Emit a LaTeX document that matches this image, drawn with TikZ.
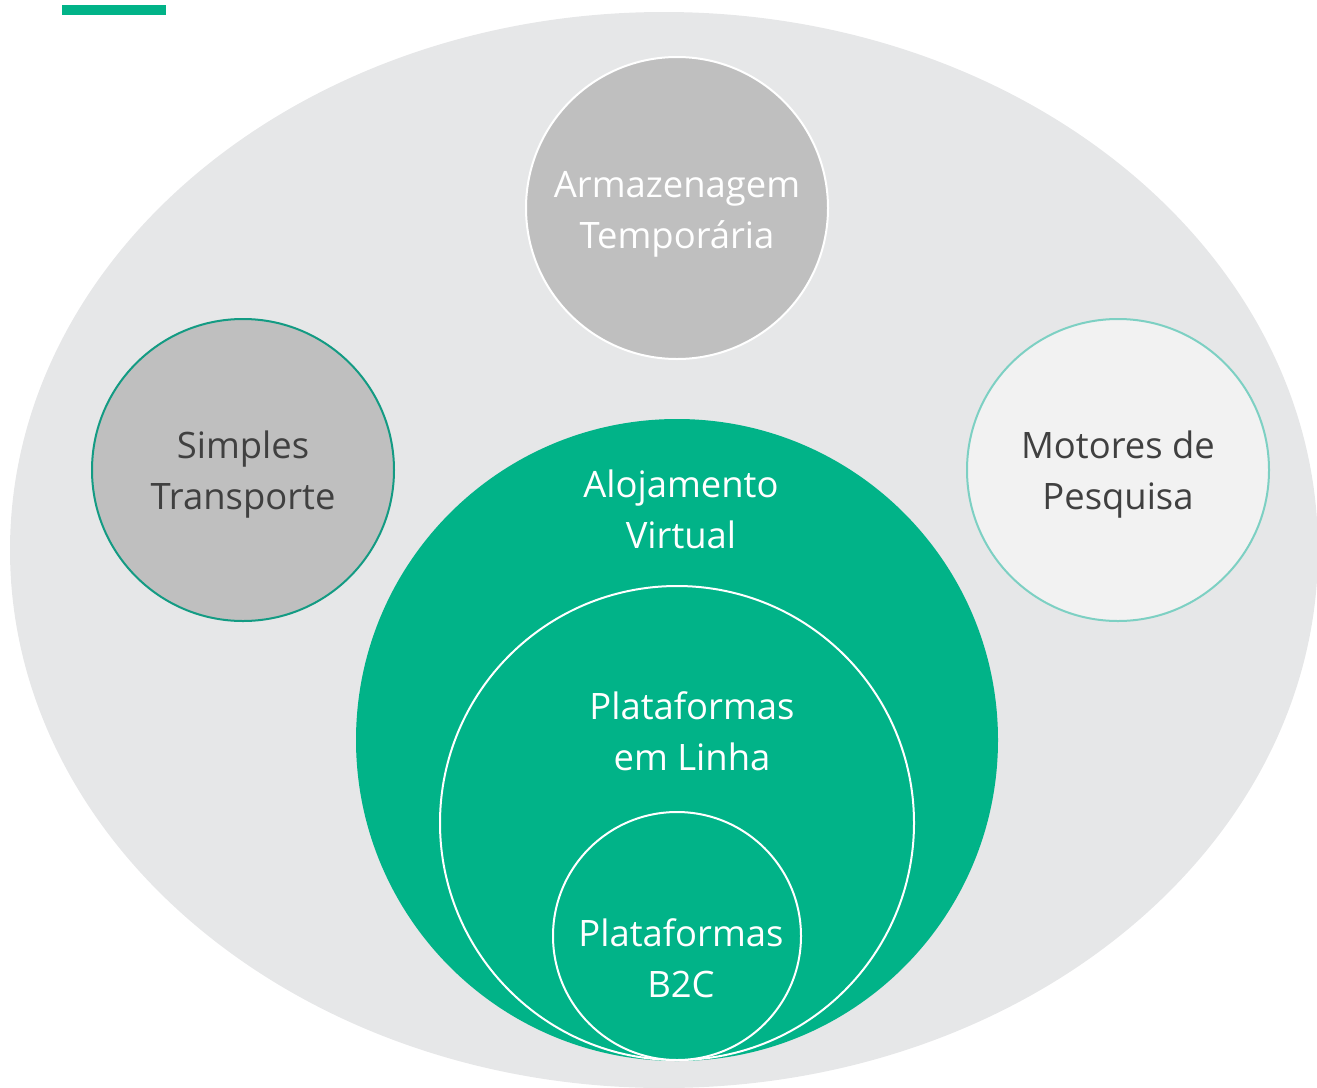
\documentclass[tikz,border=0pt]{standalone}
\usepackage{fontspec}
\setmainfont{Open Sans}
\definecolor{hpegreen}{HTML}{01B388}
\definecolor{bgoval}{HTML}{E6E7E8}
\definecolor{midgray}{HTML}{BFBFBF}
\definecolor{lightgray}{HTML}{F2F2F2}
\definecolor{darkteal}{HTML}{139B83}
\definecolor{paleteal}{HTML}{7DD0C3}
\definecolor{txtgray}{HTML}{404040}
\begin{document}
\begin{tikzpicture}[x=0.5pt,y=-0.5pt,inner sep=0pt,outer sep=0pt,
bubble/.style={draw,circle,line width=1pt},
label/.style={align=center,font=\fontsize{18.2}{25.5}\selectfont}]
\useasboundingbox (0,0) rectangle (1317,1087);
\clip (0,0) rectangle (1317,1087);
\fill[bgoval] (664,550) ellipse [x radius=654, y radius=538];
\fill[hpegreen] (62,5) rectangle (166,15);
% outer ring of themes
\draw (677,208) node[bubble,fill=midgray,draw=white,minimum size=151pt] (arm) {};
\draw (243,470) node[bubble,fill=midgray,draw=darkteal,minimum size=151pt] (sim) {};
\draw (1118,470) node[bubble,fill=lightgray,draw=paleteal,minimum size=151pt] (mot) {};
% nested green circles
\draw (677,740) node[bubble,fill=hpegreen,draw=hpegreen,minimum size=320pt] (alo) {};
\draw (677,823) node[bubble,fill=hpegreen,draw=white,minimum size=237pt] (lin) {};
\draw (677,936) node[bubble,fill=hpegreen,draw=white,minimum size=124pt] (b2c) {};
% texts
\node[label,text=white] (armtxt) at (677,214) {Armazenagem\\Temporária};
\node[label,text=txtgray] (simtxt) at (243,475) {Simples\\Transporte};
\node[label,text=txtgray] (mottxt) at (1118,475) {Motores de\\Pesquisa};
\node[label,text=white] (alotxt) at (681,509) {Alojamento\\Virtual};
\node[label,text=white] (lintxt) at (692,731) {Plataformas\\em Linha};
\node[label,text=white] (b2ctxt) at (681,958) {Plataformas\\B2C};
\end{tikzpicture}
\end{document}
